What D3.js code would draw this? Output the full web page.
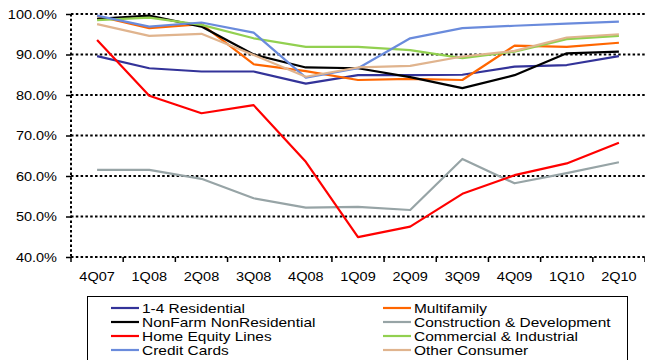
<!DOCTYPE html>
<html>
<head>
<meta charset="utf-8">
<script src="https://cdn.jsdelivr.net/npm/d3@7"></script>
<style>
  body { margin: 0; background: #fff; }
  svg { display: block; font-family: "Liberation Sans", Arial, sans-serif; }
  .grid line { stroke: #000; stroke-width: 2; stroke-dasharray: 2.5 2.3; }
  .line { fill: none; stroke-width: 2.2; stroke-linejoin: round; }
</style>
</head>
<body>
<div class="chart"></div>
<script>
// Data
const quarters = ['4Q07', '1Q08', '2Q08', '3Q08', '4Q08', '1Q09', '2Q09', '3Q09', '4Q09', '1Q10', '2Q10']

const residential14 = [89.6, 86.6, 85.8, 85.8, 82.8, 84.9, 84.9, 85.0, 87.0, 87.4, 89.6]
const multifamily = [99.5, 96.5, 97.5, 87.6, 85.9, 83.7, 84.0, 83.7, 92.2, 91.9, 92.9]
const nonFarm = [98.8, 99.6, 96.9, 90.0, 86.8, 86.6, 84.4, 81.7, 84.9, 90.3, 90.7]
const construction = [61.5, 61.5, 59.3, 54.5, 52.2, 52.4, 51.6, 64.2, 58.2, 60.7, 63.4]
const homeEquity = [93.6, 79.8, 75.5, 77.5, 63.5, 44.9, 47.5, 55.6, 60.2, 63.1, 68.2]
const commercial = [98.5, 99.1, 97.3, 94.0, 91.9, 91.9, 91.1, 89.1, 90.7, 93.8, 94.6]
const creditCards = [99.6, 96.9, 97.9, 95.4, 84.3, 86.6, 94.0, 96.5, 97.1, 97.6, 98.1]
const otherConsumer = [97.5, 94.6, 95.1, 89.9, 84.5, 86.8, 87.2, 89.5, 90.9, 94.2, 95.0]

const yTicks = [0.4, 0.5, 0.6, 0.7, 0.8, 0.9, 1.0]

const series = [
  { name: '1-4 Residential', color: '#333399', values: residential14 },
  { name: 'Multifamily', color: '#ff6600', values: multifamily },
  { name: 'NonFarm NonResidential', color: '#000000', values: nonFarm },
  { name: 'Construction & Development', color: '#97a4a6', values: construction },
  { name: 'Home Equity Lines', color: '#ff0000', values: homeEquity },
  { name: 'Commercial & Industrial', color: '#92d050', values: commercial },
  { name: 'Credit Cards', color: '#6a8bdc', values: creditCards },
  { name: 'Other Consumer', color: '#e0b48e', values: otherConsumer }
]

// Dimensions
const width = 645
const height = 360
const plot = { left: 71, right: 645, top: 14, bottom: 257 }
const stretch = 1.19   // text in the original is wider than it is tall

const svg = d3.select('.chart')
  .append('svg')
  .attr('width', width)
  .attr('height', height)

const xScale = d3.scaleBand()
  .domain(quarters)
  .range([plot.left, plot.right])

const yScale = d3.scaleLinear()
  .domain([0.4, 1.0])
  .range([plot.bottom, plot.top])

const xMid = q => xScale(q) + xScale.bandwidth() / 2

// gridlines
svg.append('g')
  .classed('grid', true)
  .selectAll('line')
  .data(yTicks)
  .join('line')
  .attr('x1', plot.left)
  .attr('x2', plot.right)
  .attr('y1', d => yScale(d))
  .attr('y2', d => yScale(d))

// left axis (dotted)
svg.append('line')
  .attr('x1', plot.left).attr('x2', plot.left)
  .attr('y1', plot.top).attr('y2', plot.bottom)
  .attr('stroke', '#000')
  .attr('stroke-width', 2)
  .attr('stroke-dasharray', '2.5 2.3')

const yAxis = d3.axisLeft(yScale)
  .tickValues(yTicks)
  .tickFormat(d3.format('.1%'))
  .tickSize(5)
  .tickPadding(0)

const yAxisGroup = svg.append('g')
  .attr('transform', `translate(${plot.left},0)`)
  .call(yAxis)
yAxisGroup.select('.domain').remove()
yAxisGroup.selectAll('.tick line').attr('stroke', '#000').attr('stroke-width', 1.5)
yAxisGroup.selectAll('.tick text')
  .attr('x', null)
  .attr('dy', null)
  .attr('transform', `translate(-14,0) scale(${stretch},1)`)
  .attr('dominant-baseline', 'central')
  .attr('font-size', 12.2)
  .attr('font-family', '"Liberation Sans", Arial, sans-serif')
  .attr('fill', '#000')

// bottom axis ticks at band edges
const edges = quarters.map(q => xScale(q)).concat([plot.right])
svg.append('g')
  .selectAll('line')
  .data(edges)
  .join('line')
  .attr('x1', d => d).attr('x2', d => d)
  .attr('y1', plot.bottom).attr('y2', plot.bottom + 5)
  .attr('stroke', '#000')
  .attr('stroke-width', 1.5)

svg.append('g')
  .selectAll('text')
  .data(quarters)
  .join('text')
  .text(d => d)
  .attr('transform', d => `translate(${xMid(d)},${plot.bottom + 20}) scale(${stretch},1)`)
  .attr('text-anchor', 'middle')
  .attr('dominant-baseline', 'central')
  .attr('font-size', 12.2)
  .attr('fill', '#000')

// lines
const lineGen = d3.line()
  .x((d, i) => xMid(quarters[i]))
  .y(d => yScale(d / 100))

svg.append('g')
  .selectAll('path')
  .data(series)
  .join('path')
  .classed('line', true)
  .attr('stroke', d => d.color)
  .attr('d', d => lineGen(d.values))

// legend
const legend = svg.append('g')
legend.append('rect')
  .attr('x', 87.5)
  .attr('y', 296.5)
  .attr('width', 540)
  .attr('height', 70)
  .attr('fill', 'none')
  .attr('stroke', '#000')
  .attr('stroke-width', 1)

const items = legend.selectAll('g.item')
  .data(series)
  .join('g')
  .classed('item', true)
  .attr('transform', (d, i) => `translate(${i % 2 === 0 ? 111 : 383},${308 + Math.floor(i / 2) * 14})`)

items.append('line')
  .attr('x1', 0).attr('x2', 28)
  .attr('stroke', d => d.color)
  .attr('stroke-width', 2.2)

items.append('text')
  .text(d => d.name)
  .attr('transform', `translate(31,0) scale(${stretch},1)`)
  .attr('dominant-baseline', 'central')
  .attr('font-size', 13)
  .attr('fill', '#000')
</script>
</body>
</html>
